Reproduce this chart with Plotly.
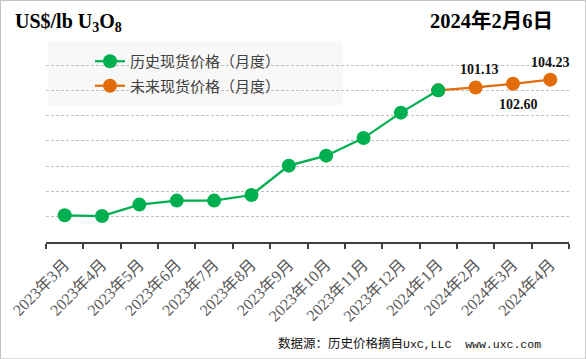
import plotly.graph_objects as go

# ---- data ----
months = ["2023年3月", "2023年4月", "2023年5月", "2023年6月", "2023年7月", "2023年8月",
          "2023年9月", "2023年10月", "2023年11月", "2023年12月", "2024年1月",
          "2024年2月", "2024年3月", "2024年4月"]
hist_values = [50.56, 50.28, 54.79, 56.37, 56.37, 58.58, 70.21, 74.16, 81.12, 91.17, 100.0,
               None, None, None]
future_values = [None] * 10 + [100.0, 101.13, 102.60, 104.23]
future_labels = [None] * 11 + ["101.13", "102.60", "104.23"]
hist_name = "历史现货价格（月度）"
future_name = "未来现货价格（月度）"
unit_title = "<b>US$/lb U<sub>3</sub>O<sub>8</sub></b>"
date_title = "<b>2024年2月6日</b>"
source_cjk = "数据源：历史价格摘自"
source_latin = "UxC,LLC&nbsp;&nbsp;www.uxc.com"

GREEN = "#00B050"
ORANGE = "#E36C0A"

W, H = 586, 359
ML, MR, MT, MB = 46, 17.2, 60, 117.3
PW = W - ML - MR
PH = H - MT - MB


def px_x(px):
    return (px - ML) / PW


def px_y(py):
    return (H - MB - py) / PH


fig = go.Figure()
fig.add_trace(go.Scatter(
    x=months, y=future_values, name=future_name, mode="lines+markers",
    line=dict(color=ORANGE, width=2.25), marker=dict(color=ORANGE, size=14),
    legendgroup="b", legendrank=2, connectgaps=False))
fig.add_trace(go.Scatter(
    x=months, y=hist_values, name=hist_name, mode="lines+markers",
    line=dict(color=GREEN, width=2.25), marker=dict(color=GREEN, size=14),
    legendgroup="a", legendrank=1, connectgaps=False))

# value labels (offsets: above, below, above)
offsets = {11: (3.4, 18.4), 12: (5.6, -20.3), 13: (-0.3, 17.3)}
for i, lab in enumerate(future_labels):
    if lab is None:
        continue
    dx, dy = offsets[i]
    fig.add_annotation(x=months[i], y=future_values[i], xref="x", yref="y",
                       text="<b>%s</b>" % lab, showarrow=False,
                       xshift=dx, yshift=dy,
                       font=dict(family="Liberation Serif", size=14, color="#111111"))

fig.add_annotation(x=px_x(13.3), y=px_y(22.5), xref="paper", yref="paper",
                   xanchor="left", yanchor="middle", text=unit_title, showarrow=False,
                   font=dict(family="Liberation Serif", size=20, color="#000000"))
fig.add_annotation(x=px_x(555), y=px_y(21.5), xref="paper", yref="paper",
                   xanchor="right", yanchor="middle", text=date_title, showarrow=False,
                   font=dict(family="Liberation Serif, Noto Sans CJK SC", size=20.5, color="#000000"))
fig.add_annotation(x=px_x(276), y=px_y(341.7), xref="paper", yref="paper",
                   xanchor="left", yanchor="middle",
                   text=source_cjk + "<span style='font-family:Liberation Mono;font-size:11.5px'>"
                   + source_latin + "</span>",
                   showarrow=False,
                   font=dict(family="Noto Sans CJK SC", size=12.5, color="#111111"))

# legend background box (below grid)
fig.add_shape(type="rect", xref="paper", yref="paper", layer="below",
              x0=px_x(48), x1=px_x(343), y0=px_y(105), y1=px_y(41),
              fillcolor="#F8F8F8", line=dict(width=0))
# outer border
fig.add_shape(type="rect", xref="paper", yref="paper", layer="above",
              x0=px_x(0.5), x1=px_x(585.5), y0=px_y(358.5), y1=px_y(0.5),
              fillcolor="rgba(0,0,0,0)", line=dict(color="#BFBFBF", width=1))

fig.update_layout(
    width=W, height=H,
    margin=dict(l=ML, r=MR, t=MT, b=MB, pad=0, autoexpand=False),
    paper_bgcolor="white", plot_bgcolor="rgba(0,0,0,0)",
    showlegend=True,
    legend=dict(x=px_x(90), y=px_y(45), xanchor="left", yanchor="top",
                bgcolor="rgba(0,0,0,0)", borderwidth=0,
                traceorder="grouped", tracegroupgap=2,
                font=dict(family="Noto Sans CJK SC", size=15, color="#404040")),
    xaxis=dict(type="category", categoryorder="array", categoryarray=months,
               range=[-0.5, len(months) - 0.5], automargin=False,
               showgrid=False, zeroline=False,
               showline=True, linecolor="#404040", linewidth=2,
               ticks="outside", tickson="boundaries", ticklen=5, tickwidth=2,
               tickcolor="#404040", tickangle=-45, ticklabelstandoff=5,
               tickfont=dict(family="Liberation Serif, Noto Sans CJK SC", size=16, color="#595959")),
    yaxis=dict(range=[40, 112], dtick=10, tick0=40, showticklabels=False, automargin=False,
               showgrid=True, gridcolor="#C0C0C0", gridwidth=1, griddash="3px,2px",
               zeroline=False, showline=False, ticks=""),
)

fig.write_html("out.html", config={"displayModeBar": False},
               post_script="document.body.style.margin='0';document.body.style.padding='0';")
